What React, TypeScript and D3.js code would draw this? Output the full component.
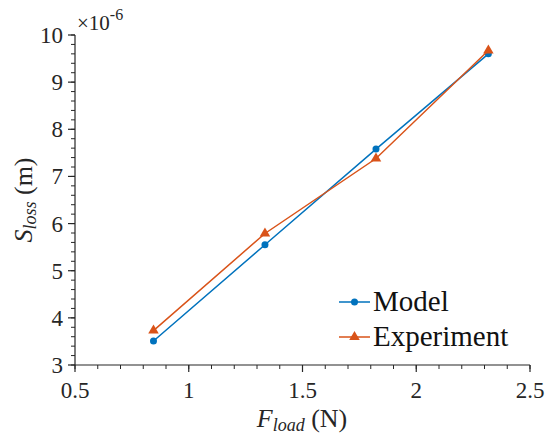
import * as d3 from "d3";

const force = [0.845, 1.335, 1.823, 2.317];
const modelLoss = [3.51, 5.55, 7.58, 9.6];
const experimentLoss = [3.73, 5.79, 7.38, 9.67];
const xTicks = [0.5, 1, 1.5, 2, 2.5];
const yTicks = [3, 4, 5, 6, 7, 8, 9, 10];

const ink = "#262626";
const blue = "#0072BD";
const orange = "#D95319";

function T(props: any) {
  const { size, italic, children, ...rest } = props;
  return (
    <text
      fontFamily="Liberation Serif"
      style={{ fontFamily: "'Liberation Serif'", fontSize: size, fontStyle: italic ? "italic" : "normal" }}
      {...rest}
    >
      {children}
    </text>
  );
}

export default function App() {
  const width = 550;
  const height = 437;

  const x = d3.scaleLinear().domain([0.5, 2.5]).range([75, 530]);
  const y = d3.scaleLinear().domain([3, 10]).range([365, 35]);

  const xMinor = d3.range(0.5, 2.5001, 0.1);
  const yMinor = d3.range(3, 10.0001, 0.2);

  const line = d3
    .line<number>()
    .x((_, i) => x(force[i]))
    .y((d) => y(d));

  const tri = d3.symbol().type(d3.symbolTriangle).size(48)();

  const legend = [
    { name: "Model", color: blue, marker: "circle", yy: 302 },
    { name: "Experiment", color: orange, marker: "triangle", yy: 337 },
  ];

  return (
    <svg width={width} height={height} style={{ position: "absolute", left: 0, top: 0 }}>
      <style>{"text, tspan { font-family: 'Liberation Serif'; }"}</style>
      {/* minor ticks */}
      {xMinor.map((d, i) => (
        <line key={"xm" + i} x1={x(d)} x2={x(d)} y1={365} y2={369} stroke={ink} strokeWidth={1} />
      ))}
      {yMinor.map((d, i) => (
        <line key={"ym" + i} x1={71} x2={75} y1={y(d)} y2={y(d)} stroke={ink} strokeWidth={1} />
      ))}
      {/* major ticks */}
      {xTicks.map((d) => (
        <line key={"xt" + d} x1={x(d)} x2={x(d)} y1={365} y2={372} stroke={ink} strokeWidth={1.2} />
      ))}
      {yTicks.map((d) => (
        <line key={"yt" + d} x1={68} x2={75} y1={y(d)} y2={y(d)} stroke={ink} strokeWidth={1.2} />
      ))}
      {/* axis lines */}
      <line x1={75} x2={530} y1={365} y2={365} stroke={ink} strokeWidth={1.2} />
      <line x1={75} x2={75} y1={35} y2={365} stroke={ink} strokeWidth={1.2} />

      {/* tick labels */}
      {xTicks.map((d) => (
        <T key={"xl" + d} x={x(d)} y={398} textAnchor="middle" size={23} fill={ink}>
          {String(d)}
        </T>
      ))}
      {yTicks.map((d) => (
        <T key={"yl" + d} x={63} y={y(d)} dy="0.35em" textAnchor="end" size={23} fill={ink}>
          {String(d)}
        </T>
      ))}

      {/* exponent */}
      <T x={77} y={30} size={21} fill={ink}>
        ×10
        <tspan dy={-10} fontSize={16}>-6</tspan>
      </T>

      {/* axis titles */}
      <T x={302} y={427} textAnchor="middle" size={26} fill={ink}>
        <tspan fontStyle="italic">F</tspan>
        <tspan fontStyle="italic" fontSize={18} dy={4}>load</tspan>
        <tspan dy={-4}> (N)</tspan>
      </T>
      <T transform="translate(32,200) rotate(-90)" textAnchor="middle" size={26} fill={ink}>
        <tspan fontStyle="italic">S</tspan>
        <tspan fontStyle="italic" fontSize={18} dy={4}>loss</tspan>
        <tspan dy={-4}> (m)</tspan>
      </T>

      {/* series */}
      <path d={line(modelLoss) ?? ""} fill="none" stroke={blue} strokeWidth={1.5} />
      {modelLoss.map((d, i) => (
        <circle key={"mc" + i} cx={x(force[i])} cy={y(d)} r={3.5} fill={blue} />
      ))}
      <path d={line(experimentLoss) ?? ""} fill="none" stroke={orange} strokeWidth={1.5} />
      {experimentLoss.map((d, i) => (
        <path key={"et" + i} d={tri ?? ""} transform={`translate(${x(force[i])},${y(d)})`} fill={orange} />
      ))}

      {/* legend */}
      {legend.map((l) => (
        <g key={l.name}>
          <line x1={339} x2={370} y1={l.yy} y2={l.yy} stroke={l.color} strokeWidth={1.5} />
          {l.marker === "circle" ? (
            <circle cx={354.5} cy={l.yy} r={3.5} fill={l.color} />
          ) : (
            <path d={tri ?? ""} transform={`translate(354.5,${l.yy})`} fill={l.color} />
          )}
          <T x={373} y={l.yy + 9} size={29} fill="#111">
            {l.name}
          </T>
        </g>
      ))}
    </svg>
  );
}
